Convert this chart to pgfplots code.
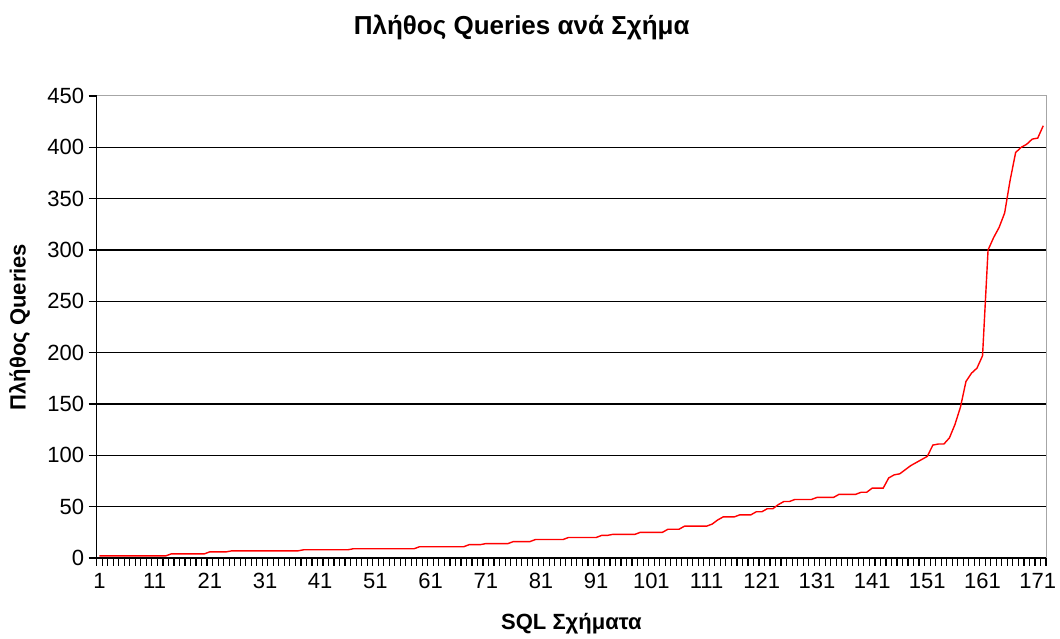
\documentclass[border=0pt]{standalone}
\usepackage{fontspec}
\setmainfont{Liberation Sans}
\usepackage{pgfplots}
\pgfplotsset{compat=1.18}

\begin{document}
\begin{tikzpicture}
\useasboundingbox (-96.7pt,-81pt) rectangle (963.3pt,558pt);
\begin{axis}[
  at={(0,0)},anchor=south west,
  scale only axis,width=949.3pt,height=462pt,
  xmin=0.5,xmax=172.5,ymin=0,ymax=450,
  axis line style={draw=gray!70,line width=1pt},
  xtick={0.5,1.5,...,172.5},xticklabels={},
  extra x ticks={1,11,21,31,41,51,61,71,81,91,101,111,121,131,141,151,161,171},
  extra x tick labels={1,11,21,31,41,51,61,71,81,91,101,111,121,131,141,151,161,171},
  extra x tick style={major tick length=0pt,grid=none},
  ytick={0,50,...,400},
  extra y ticks={450},
  extra y tick style={grid=none},
  tick align=outside,major tick length=8pt,
  tick style={black,line width=1.2pt},
  xtick pos=bottom,ytick pos=left,
  ymajorgrids,
  major grid style={black,line width=1.2pt},
  /pgf/number format/assume math mode=true,
  tick label style={font=\fontsize{22}{26}\selectfont},
  xticklabel style={yshift=-12pt},
  yticklabel style={xshift=-1pt},
  title={\bfseries Πλήθος Queries ανά Σχήμα},
  title style={at={(rel axis cs:0,1)},anchor=center,xshift=425pt,yshift=63pt,
               font=\fontsize{26}{30}\selectfont},
  xlabel={\bfseries SQL Σχήματα},
  x label style={at={(rel axis cs:0.5,0)},anchor=center,yshift=-66pt,
                 font=\fontsize{22}{26}\selectfont},
  ylabel={\bfseries Πλήθος Queries},
  y label style={at={(rel axis cs:0,0.5)},anchor=center,rotate=0,yshift=77pt,
                 font=\fontsize{22}{26}\selectfont},
  after end axis/.code={
    \draw[black,line width=1.5pt] (rel axis cs:0,1) -- (rel axis cs:0,0) -- (rel axis cs:1,0);
  },
]
\addplot[red,line width=1.4pt,mark=none] coordinates {
(1,2)(2,2)(3,2)(4,2)(5,2)(6,2)(7,2)(8,2)(9,2)(10,2)(11,2)(12,2)(13,2)
(14,4)(15,4)(16,4)(17,4)(18,4)(19,4)(20,4)
(21,6)(22,6)(23,6)(24,6)
(25,7)(26,7)(27,7)(28,7)(29,7)(30,7)(31,7)(32,7)(33,7)(34,7)(35,7)(36,7)(37,7)
(38,8)(39,8)(40,8)(41,8)(42,8)(43,8)(44,8)(45,8)(46,8)
(47,9)(48,9)(49,9)(50,9)(51,9)(52,9)(53,9)(54,9)(55,9)(56,9)(57,9)(58,9)
(59,11)(60,11)(61,11)(62,11)(63,11)(64,11)(65,11)(66,11)(67,11)
(68,13)(69,13)(70,13)
(71,14)(72,14)(73,14)(74,14)(75,14)
(76,16)(77,16)(78,16)(79,16)
(80,18)(81,18)(82,18)(83,18)(84,18)(85,18)
(86,20)(87,20)(88,20)(89,20)(90,20)(91,20)
(92,22)(93,22)
(94,23)(95,23)(96,23)(97,23)(98,23)
(99,25)(100,25)(101,25)(102,25)(103,25)
(104,28)(105,28)(106,28)
(107,31)(108,31)(109,31)(110,31)(111,31)
(112,33)(113,37)
(114,40)(115,40)(116,40)
(117,42)(118,42)(119,42)
(120,45)(121,45)
(122,48)(123,48)
(124,52)(125,55)(126,55)
(127,57)(128,57)(129,57)(130,57)
(131,59)(132,59)(133,59)(134,59)
(135,62)(136,62)(137,62)(138,62)
(139,64)(140,64)
(141,68)(142,68)(143,68)
(144,78)(145,81)(146,82)(147,86)(148,90)(149,93)(150,96)(151,99)
(152,110)(153,111)(154,111)(155,117)(156,130)(157,147)(158,172)(159,180)
(160,185)(161,197)(162,300)(163,312)(164,322)(165,336)(166,368)(167,395)
(168,400)(169,403)(170,408)(171,409)(172,421)
};
\end{axis}
\end{tikzpicture}
\end{document}
